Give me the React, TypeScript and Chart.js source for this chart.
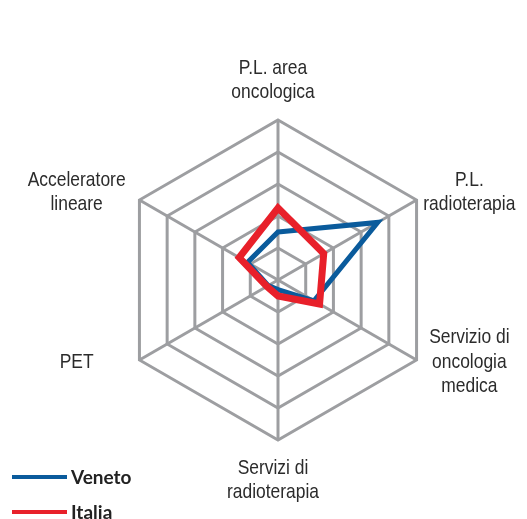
import React, { useEffect, useRef } from "react";
import { Chart, registerables } from "chart.js";

Chart.register(...registerables);

const categories: string[][] = [
  ["P.L. area", "oncologica"],
  ["P.L.", "radioterapia"],
  ["Servizio di", "oncologia", "medica"],
  ["Servizi di", "radioterapia"],
  ["PET"],
  ["Acceleratore", "lineare"],
];

const venetoValues = [1.5, 3.6, 1.3, 0.3, 0.35, 1.1];
const italiaValues = [2.25, 1.65, 1.5, 0.5, 0.4, 1.4];

const seriesNames = ["Veneto", "Italia"];
const scaleMax = 5;
const scaleStep = 1;

const LABEL_FONT = '"Liberation Sans", Arial, sans-serif';
const NARROW = 0.83;

const pointLabelPlugin = {
  id: "customPointLabels",
  afterDraw(chart: any) {
    const scale = chart.scales.r;
    const ctx = chart.ctx;
    const R = scale.drawingArea;
    const cx = scale.xCenter;
    const cy = scale.yCenter;
    ctx.save();
    ctx.fillStyle = "#2b2b2b";
    ctx.font = `21px ${LABEL_FONT}`;
    ctx.textAlign = "center";
    ctx.textBaseline = "middle";
    const lh = 24.5;
    categories.forEach((lines, i) => {
      const p = scale.getPointPosition(i, R);
      const dx = p.x - cx;
      const dy = p.y - cy;
      let x: number, y: number;
      if (Math.abs(dx) < 1) {
        x = cx - 5;
        y = cy + dy * 1.25;
      } else {
        x = cx - 5 + dx * 1.417;
        y = p.y + (dy < 0 ? -8 : 2);
      }
      const top = y - ((lines.length - 1) * lh) / 2;
      lines.forEach((t, k) => {
        ctx.save();
        ctx.translate(x, top + k * lh);
        ctx.scale(NARROW, 1);
        ctx.fillText(t, 0, 0);
        ctx.restore();
      });
    });
    ctx.restore();
  },
};

const legendPlugin = {
  id: "customLegend",
  afterDraw(chart: any) {
    const ctx = chart.ctx;
    ctx.save();
    ctx.font = 'bold 19px Lato, "Open Sans", sans-serif';
    ctx.textBaseline = "middle";
    ctx.textAlign = "left";
    chart.data.datasets.forEach((ds: any, i: number) => {
      const y = 477 + i * 35;
      ctx.strokeStyle = ds.borderColor;
      ctx.lineWidth = 4;
      ctx.beginPath();
      ctx.moveTo(12, y);
      ctx.lineTo(67, y);
      ctx.stroke();
      ctx.fillStyle = "#222222";
      ctx.fillText(ds.label, 71, y + 1);
    });
    ctx.restore();
  },
};

export default function App() {
  const ref = useRef<HTMLCanvasElement | null>(null);
  useEffect(() => {
    if (!ref.current) return;
    const chart = new Chart(ref.current, {
      type: "radar",
      data: {
        labels: categories,
        datasets: [
          {
            label: seriesNames[0],
            data: venetoValues,
            borderColor: "#0a5b9c",
            backgroundColor: "transparent",
            borderWidth: 5,
            pointRadius: 0,
            fill: false,
            borderJoinStyle: "miter",
            order: 1,
          },
          {
            label: seriesNames[1],
            data: italiaValues,
            borderColor: "#e8202a",
            backgroundColor: "transparent",
            borderWidth: 7,
            pointRadius: 0,
            fill: false,
            borderJoinStyle: "miter",
            order: 0,
          },
        ],
      },
      options: {
        animation: false,
        responsive: true,
        maintainAspectRatio: false,
        layout: { padding: { left: 118, right: 89, top: 120, bottom: 79 } },
        plugins: { legend: { display: false }, tooltip: { enabled: false } },
        scales: {
          r: {
            min: 0,
            max: scaleMax,
            ticks: { stepSize: scaleStep, display: false },
            grid: { color: "#9d9ea1", lineWidth: 3 },
            angleLines: { color: "#9d9ea1", lineWidth: 3 },
            pointLabels: { display: false },
          },
        },
      },
      plugins: [pointLabelPlugin, legendPlugin],
    });
    return () => chart.destroy();
  }, []);
  return (
    <div style={{ position: "fixed", left: 0, top: 0, width: 527, height: 519, background: "#fff" }}>
      <canvas ref={ref} />
    </div>
  );
}
